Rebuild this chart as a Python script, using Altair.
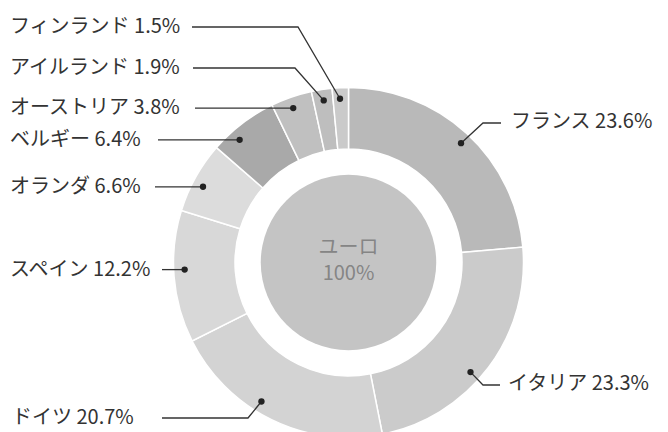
import math
import altair as alt
import pandas as pd

# ---------------- data ----------------
categories = ["フランス", "イタリア", "ドイツ", "スペイン", "オランダ",
              "ベルギー", "オーストリア", "アイルランド", "フィンランド"]
shares = [23.6, 23.3, 20.7, 12.2, 6.6, 6.4, 3.8, 1.9, 1.5]
center_title = "ユーロ"
center_total = "100%"

# ---------------- styles / layout ----------------
colors = ["#b9b9b9", "#cbcbcb", "#d3d3d3", "#d8d8d8", "#dcdcdc",
          "#a9a9a9", "#c0c0c0", "#bebebe", "#cacaca"]
DISK_COLOR = "#c4c4c4"
CENTER_TEXT_COLOR = "#858585"
LABEL_COLOR = "#333333"
LINE_COLOR = "#333333"
FONT = "Noto Sans CJK JP"

M = 8
W, H = 668 - 2 * M, 432 - M
CX, CY = 348.5, 262.5
R_OUT, R_IN, R_DISK, R_DOT = 175, 113.5, 99, 164

# where the dot sits within its segment (0..1 of the segment's angle)
dot_frac = [0.51, 0.56, 0.58, 0.55, 0.43, 0.32, 0.455, 0.52, 0.45]

# label layout: text anchor and leader-line points before/after the dot
# "ty": None means the text sits at the dot's height
layout = {
    "フランス":   dict(tx=511, ty=122, pre=[], post=[(483, 123), (501, 123)]),
    "イタリア":   dict(tx=508, ty=384, pre=[], post=[(483, 385), (500, 385)]),
    "ドイツ":     dict(tx=12, ty=418, pre=[(162, 418), (248, 418)], post=[]),
    "スペイン":   dict(tx=10, ty=None, pre=[(162, None)], post=[]),
    "オランダ":   dict(tx=10, ty=None, pre=[(155, None)], post=[]),
    "ベルギー":   dict(tx=10, ty=None, pre=[(158, None)], post=[]),
    "オーストリア": dict(tx=10, ty=None, pre=[(195, None)], post=[]),
    "アイルランド": dict(tx=10, ty=68, pre=[(193, 68), (295, 68)], post=[]),
    "フィンランド": dict(tx=10, ty=27, pre=[(192, 27), (298, 27)], post=[]),
}

# ---------------- derived tables ----------------
ring_df = pd.DataFrame({"cat": categories, "share": shares,
                        "idx": list(range(len(categories)))})

total = sum(shares)
dots, lines, labels = [], [], []
start = 0.0
for i, (c, v) in enumerate(zip(categories, shares)):
    a0 = start / total * 2 * math.pi
    a1 = (start + v) / total * 2 * math.pi
    start += v
    a = a0 + dot_frac[i] * (a1 - a0)
    dx, dy = CX + R_DOT * math.sin(a), CY - R_DOT * math.cos(a)
    dots.append({"cat": c, "x": dx, "y": dy})
    lay = layout[c]
    pts = [(px, dy if py is None else py) for px, py in lay["pre"]]
    pts.append((dx, dy))
    pts += [(px, dy if py is None else py) for px, py in lay["post"]]
    for k, (px, py) in enumerate(pts):
        lines.append({"cat": c, "seq": k, "x": px, "y": py})
    ty = dy if lay["ty"] is None else lay["ty"]
    labels.append({"cat": c, "x": lay["tx"], "y": ty,
                   "text": f"{c} {v:.1f}%"})

dots_df = pd.DataFrame(dots)
lines_df = pd.DataFrame(lines)
labels_df = pd.DataFrame(labels)
disk_df = pd.DataFrame({"x": [CX], "y": [CY]})
center_df = pd.DataFrame({"x": [CX, CX], "y": [CY - 15, CY + 11.5],
                          "text": [center_title, center_total]})

xs = alt.Scale(domain=[M, M + W], nice=False, zero=False)
ys = alt.Scale(domain=[M, M + H], reverse=True, nice=False, zero=False)
X = lambda: alt.X("x:Q", scale=xs, axis=None)
Y = lambda: alt.Y("y:Q", scale=ys, axis=None)

ring = alt.Chart(ring_df).mark_arc(
    x=CX - M, y=CY - M, outerRadius=R_OUT, innerRadius=R_IN,
    stroke="white", strokeWidth=1.5
).encode(
    theta=alt.Theta("share:Q", stack=True),
    order=alt.Order("idx:Q"),
    color=alt.Color("cat:N", scale=alt.Scale(domain=categories, range=colors),
                    legend=None),
)

disk = alt.Chart(disk_df).mark_circle(
    opacity=1, color=DISK_COLOR, size=math.pi * R_DISK ** 2
).encode(x=X(), y=Y())

center = alt.Chart(center_df).mark_text(
    font=FONT, fontSize=20, color=CENTER_TEXT_COLOR, baseline="middle",
    align="center"
).encode(x=X(), y=Y(), text="text:N")

leader = alt.Chart(lines_df).mark_line(
    color=LINE_COLOR, strokeWidth=1.3
).encode(x=X(), y=Y(), detail="cat:N", order="seq:Q")

dot = alt.Chart(dots_df).mark_circle(
    opacity=1, color="#222222", size=40
).encode(x=X(), y=Y())

label = alt.Chart(labels_df).mark_text(
    font=FONT, fontSize=20, color=LABEL_COLOR, baseline="middle", align="left"
).encode(x=X(), y=Y(), text="text:N")

chart = alt.layer(ring, disk, center, leader, dot, label).properties(
    width=W, height=H, padding=0,
    autosize=alt.AutoSizeParams(type="none"),
    background="white",
).configure_view(stroke=None)

chart.save("out.html", embed_options={"renderer": "svg", "actions": False})
